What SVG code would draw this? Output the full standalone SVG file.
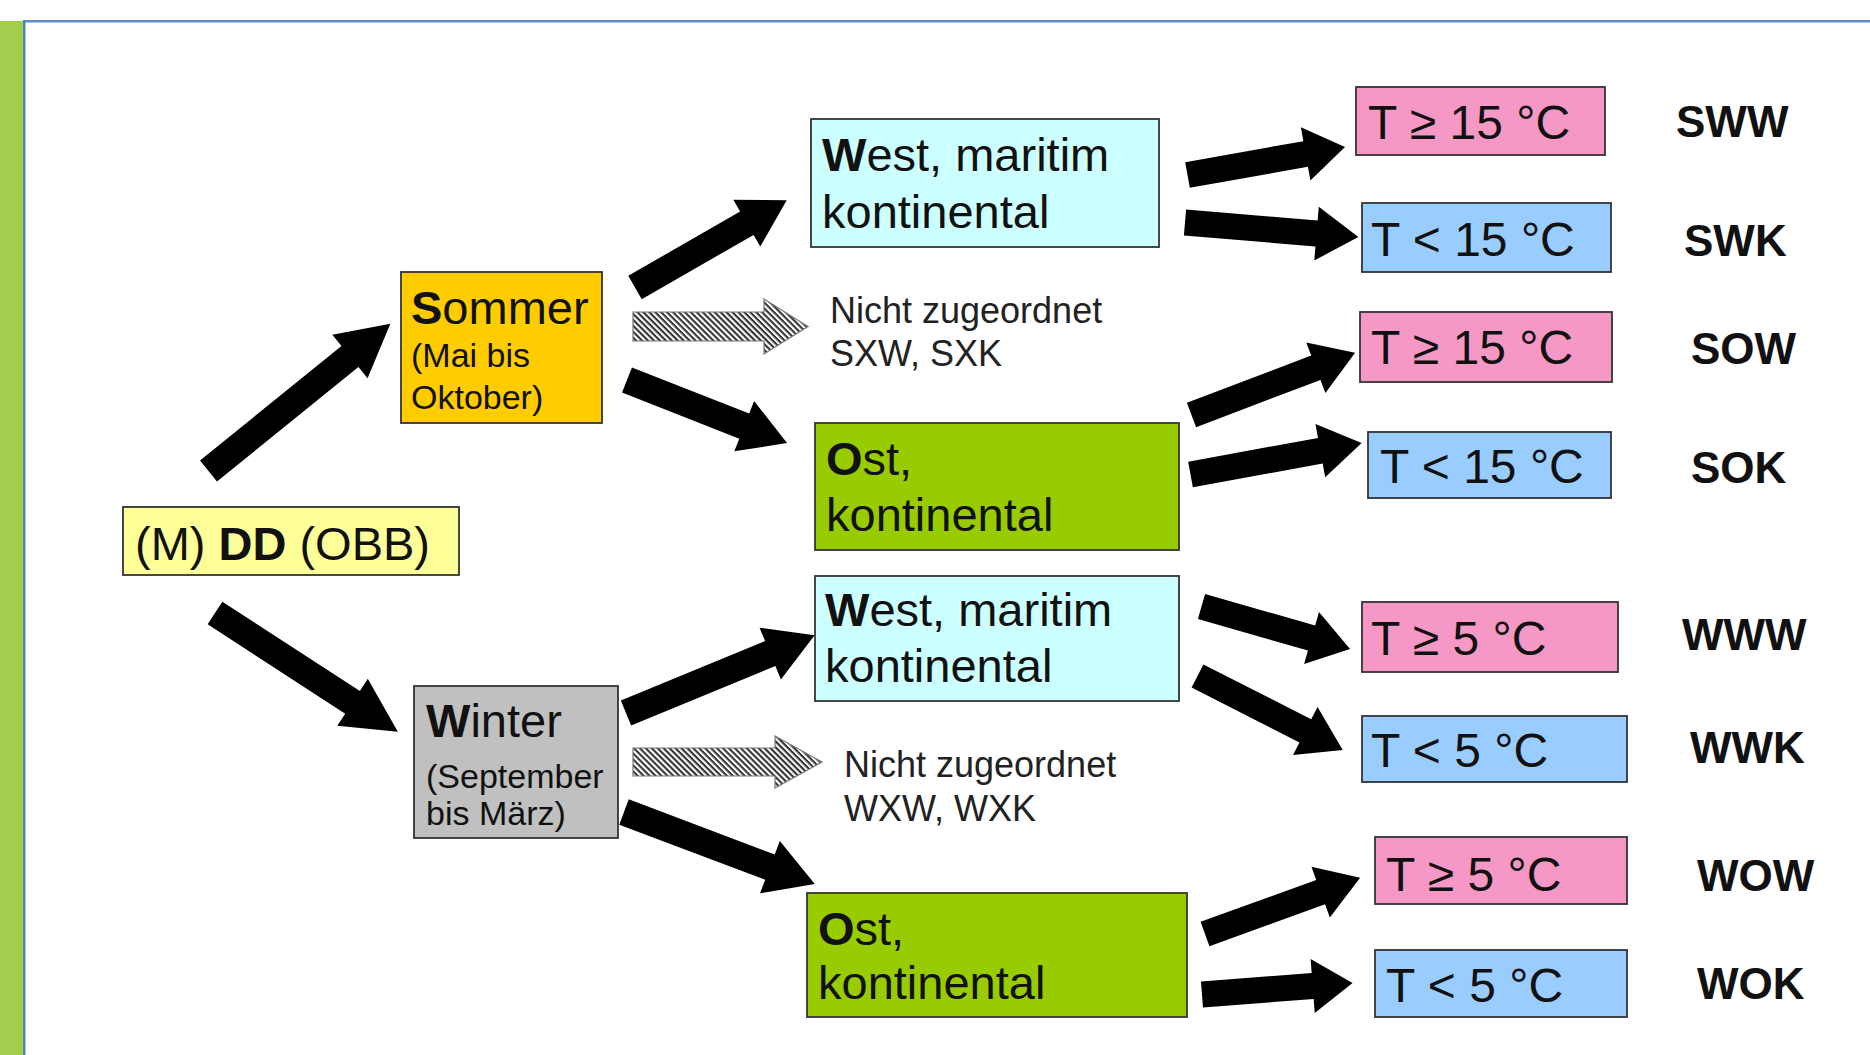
<svg xmlns="http://www.w3.org/2000/svg" width="1870" height="1055" viewBox="0 0 1870 1055">
<defs>
<style>
text{font-family:"Liberation Sans",Arial,sans-serif;fill:#111;}
.big{font-size:47px;}
.sub{font-size:34px;}
.nz{font-size:36px;fill:#222;}
.lab{font-size:44px;font-weight:bold;}
.t{font-size:48px;}
.b{font-weight:bold;}
.box{stroke:#333;stroke-width:1.8;}
.arr{fill:#000;}
.hatch{fill:url(#hp);stroke:#777;stroke-width:1.2;}
</style>
<pattern id="hp" width="4.2" height="4.2" patternUnits="userSpaceOnUse" patternTransform="rotate(45)">
<rect width="4.2" height="4.2" fill="#fff"/>
<rect width="4.2" height="2.1" fill="#333"/>
</pattern>
</defs>
<rect width="1870" height="1055" fill="#fff"/>
<rect x="0" y="21" width="23" height="1034" fill="#A3CE4D"/>
<rect x="23" y="20" width="1847" height="2.5" fill="#5B8FCB"/>
<rect x="23" y="20" width="2.5" height="1035" fill="#4F86BE"/>

<g id="connectors">
<path class="arr" d="M0,-13.5 H182 V-28 L234,0 L182,28 V13.5 H0Z" transform="translate(208.5,471) rotate(-39)"/>
<path class="arr" d="M0,-13.5 H164 V-28 L218,0 L164,28 V13.5 H0Z" transform="translate(215,613) rotate(33)"/>
<path class="arr" d="M0,-13.5 H129 V-27 L175,0 L129,27 V13.5 H0Z" transform="translate(635,287.5) rotate(-29.9)"/>
<path class="arr" d="M0,-13.5 H126 V-27 L172,0 L126,27 V13.5 H0Z" transform="translate(627,380) rotate(21.5)"/>
<path class="hatch" d="M633,312 H764 V299 L808,326.5 L764,354 V341 H633Z"/>
<path class="arr" d="M0,-13.5 H156 V-28 L204,0 L156,28 V13.5 H0Z" transform="translate(626,713) rotate(-22.4)"/>
<path class="hatch" d="M633,748 H775 V736 L822,762 L775,788 V776 H633Z"/>
<path class="arr" d="M0,-13.5 H156 V-28 L204,0 L156,28 V13.5 H0Z" transform="translate(624,812) rotate(20.7)"/>
<path class="arr" d="M0,-13 H120 V-27 L160,0 L120,27 V13 H0Z" transform="translate(1187.5,175) rotate(-10.1)"/>
<path class="arr" d="M0,-13 H132 V-27 L174,0 L132,27 V13 H0Z" transform="translate(1185,222.5) rotate(4.8)"/>
<path class="arr" d="M0,-13 H133 V-27 L175,0 L133,27 V13 H0Z" transform="translate(1191.5,415) rotate(-20.8)"/>
<path class="arr" d="M0,-13 H132 V-27 L174,0 L132,27 V13 H0Z" transform="translate(1190.5,474.5) rotate(-10.4)"/>
<path class="arr" d="M0,-13 H114.5 V-27 L154.5,0 L114.5,27 V13 H0Z" transform="translate(1201.5,606.5) rotate(16)"/>
<path class="arr" d="M0,-13 H121 V-27 L163,0 L121,27 V13 H0Z" transform="translate(1197.5,676) rotate(27)"/>
<path class="arr" d="M0,-13 H123 V-27 L165,0 L123,27 V13 H0Z" transform="translate(1205,934) rotate(-19.9)"/>
<path class="arr" d="M0,-13 H111 V-27 L151,0 L111,27 V13 H0Z" transform="translate(1202,994.5) rotate(-4.4)"/>
</g>

<g id="dd">
<rect class="box" x="123" y="507" width="336" height="68" fill="#FFFF99"/>
<text class="big" x="135" y="560">(M) <tspan class="b">DD</tspan> (OBB)</text>
</g>
<g id="sommer">
<rect class="box" x="401" y="272" width="201" height="151" fill="#FFCC00"/>
<text class="big" x="411" y="324"><tspan class="b">S</tspan>ommer</text>
<text class="sub" x="411" y="367">(Mai bis</text>
<text class="sub" x="411" y="409">Oktober)</text>
</g>
<g id="winter">
<rect class="box" x="414" y="686" width="204" height="152" fill="#C0C0C0"/>
<text class="big" x="426" y="737"><tspan class="b">W</tspan>inter</text>
<text class="sub" x="426" y="788">(September</text>
<text class="sub" x="426" y="825">bis März)</text>
</g>
<g id="west-sommer">
<rect class="box" x="811" y="119" width="348" height="128" fill="#CCFFFF"/>
<text class="big" x="822" y="171"><tspan class="b">W</tspan>est, maritim</text>
<text class="big" x="822" y="228">kontinental</text>
</g>
<g id="nicht-sommer">
<text class="nz" x="830" y="323">Nicht zugeordnet</text>
<text class="nz" x="830" y="366">SXW, SXK</text>
</g>
<g id="ost-sommer">
<rect class="box" x="815" y="423" width="364" height="127" fill="#99CC00"/>
<text class="big" x="826" y="475"><tspan class="b">O</tspan>st,</text>
<text class="big" x="826" y="531">kontinental</text>
</g>
<g id="west-winter">
<rect class="box" x="815" y="576" width="364" height="125" fill="#CCFFFF"/>
<text class="big" x="825" y="626"><tspan class="b">W</tspan>est, maritim</text>
<text class="big" x="825" y="682">kontinental</text>
</g>
<g id="nicht-winter">
<text class="nz" x="844" y="777">Nicht zugeordnet</text>
<text class="nz" x="844" y="821">WXW, WXK</text>
</g>
<g id="ost-winter">
<rect class="box" x="807" y="893" width="380" height="124" fill="#99CC00"/>
<text class="big" x="818" y="945"><tspan class="b">O</tspan>st,</text>
<text class="big" x="818" y="999">kontinental</text>
</g>

<g id="sww">
<rect class="box" x="1356" y="87" width="249" height="68" fill="#F598C5"/>
<text class="t" x="1368" y="139">T ≥ 15 °C</text>
<text class="lab" x="1676" y="137">SWW</text>
</g>
<g id="swk">
<rect class="box" x="1362" y="203" width="249" height="69" fill="#99CCFF"/>
<text class="t" x="1371" y="256">T &lt; 15 °C</text>
<text class="lab" x="1684" y="256">SWK</text>
</g>
<g id="sow">
<rect class="box" x="1360" y="312" width="252" height="70" fill="#F598C5"/>
<text class="t" x="1371" y="364">T ≥ 15 °C</text>
<text class="lab" x="1691" y="364">SOW</text>
</g>
<g id="sok">
<rect class="box" x="1368" y="432" width="243" height="66" fill="#99CCFF"/>
<text class="t" x="1380" y="483">T &lt; 15 °C</text>
<text class="lab" x="1691" y="483">SOK</text>
</g>
<g id="www">
<rect class="box" x="1362" y="602" width="256" height="70" fill="#F598C5"/>
<text class="t" x="1371" y="655">T ≥ 5 °C</text>
<text class="lab" x="1682" y="650">WWW</text>
</g>
<g id="wwk">
<rect class="box" x="1362" y="716" width="265" height="66" fill="#99CCFF"/>
<text class="t" x="1371" y="767">T &lt; 5 °C</text>
<text class="lab" x="1690" y="763">WWK</text>
</g>
<g id="wow">
<rect class="box" x="1375" y="837" width="252" height="67" fill="#F598C5"/>
<text class="t" x="1386" y="891">T ≥ 5 °C</text>
<text class="lab" x="1697" y="891">WOW</text>
</g>
<g id="wok">
<rect class="box" x="1375" y="950" width="252" height="67" fill="#99CCFF"/>
<text class="t" x="1386" y="1002">T &lt; 5 °C</text>
<text class="lab" x="1697" y="999">WOK</text>
</g>
</svg>
